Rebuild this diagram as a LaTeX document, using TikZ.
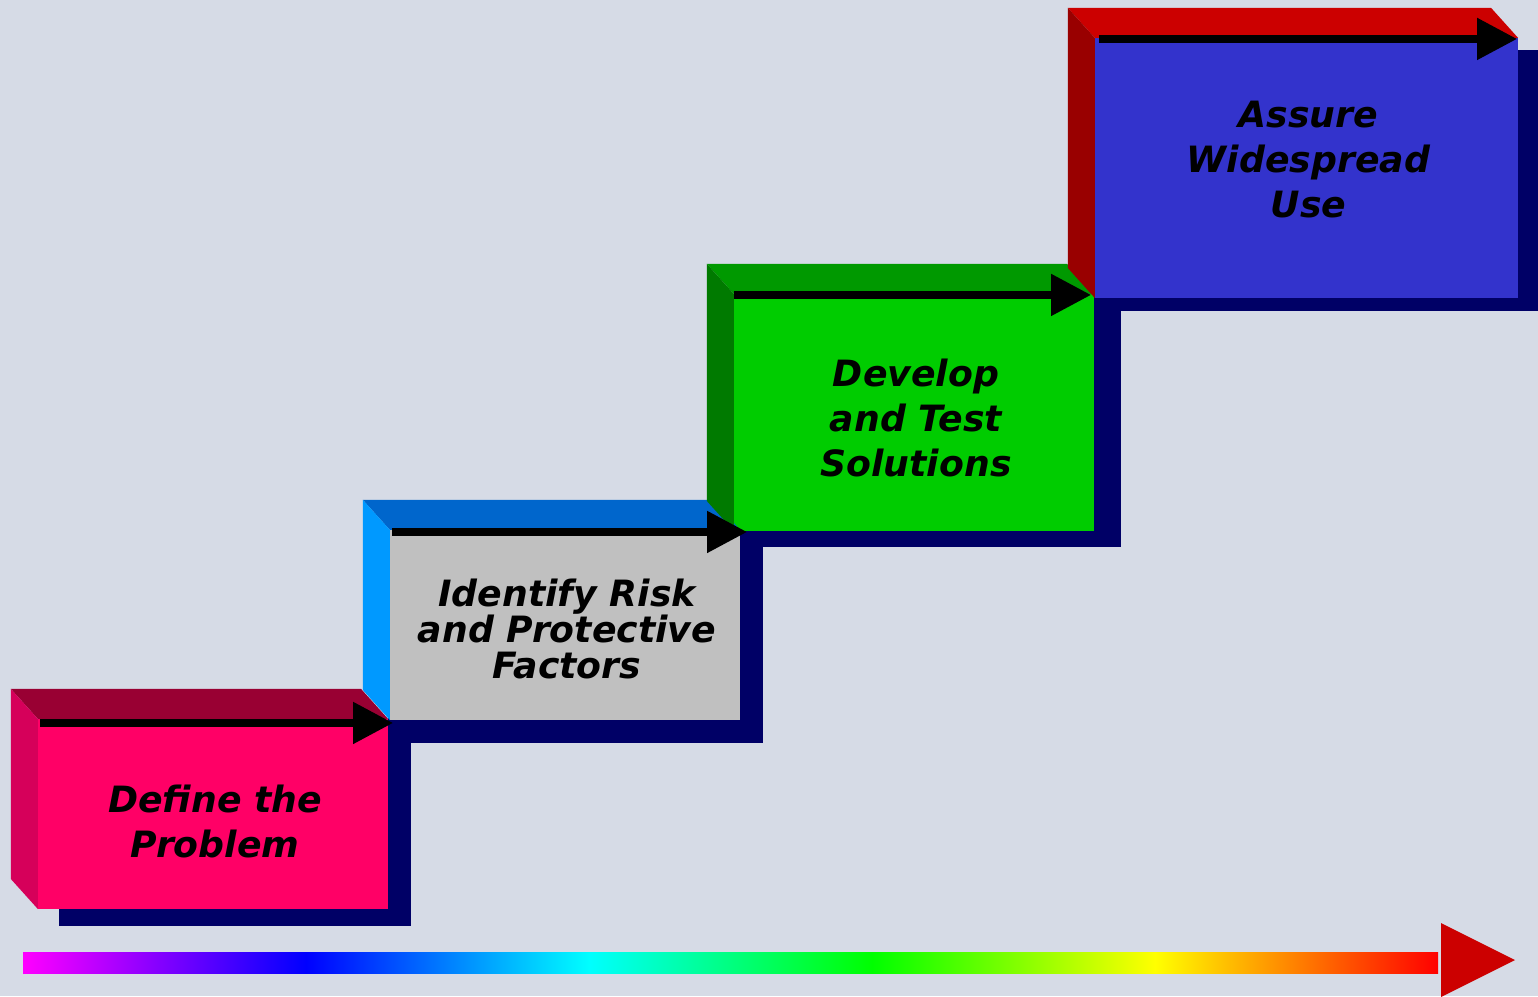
\documentclass[tikz,border=0pt]{standalone}
\usepackage{fontspec}
\newfontfamily\stepfont{DejaVu Sans}[ItalicFont={* Oblique}, BoldFont={* Bold}, BoldItalicFont={* Bold Oblique}]
\usetikzlibrary{arrows.meta,calc}

\definecolor{bgcolor}{HTML}{D6DBE6}
\definecolor{shadowblue}{HTML}{000066}
\definecolor{pinkfront}{HTML}{FF0066}
\definecolor{pinktop}{HTML}{990033}
\definecolor{pinkside}{HTML}{D6005A}
\definecolor{greyfront}{HTML}{C0C0C0}
\definecolor{greytop}{HTML}{0066CC}
\definecolor{greyside}{HTML}{0099FF}
\definecolor{greenfront}{HTML}{00CC00}
\definecolor{greentop}{HTML}{009900}
\definecolor{greenside}{HTML}{007A00}
\definecolor{bluefront}{HTML}{3333CC}
\definecolor{bluetop}{HTML}{CC0000}
\definecolor{blueside}{HTML}{990000}
\definecolor{timered}{HTML}{CC0000}

\pgfdeclarehorizontalshading{timeline}{100bp}{color(0bp)=(magenta); color(25bp)=(magenta);
  color(35bp)=(blue); color(45bp)=(cyan); color(55bp)=(green); color(65bp)=(yellow);
  color(75bp)=(red); color(100bp)=(red)}

\begin{document}
\begin{tikzpicture}[x=0.01cm, y=-0.01cm,
    stepface/.style={inner sep=0pt, outer sep=0pt},
    steptext/.style={font=\stepfont\bfseries\itshape\fontsize{10.3}{#1}\selectfont, align=center, inner sep=0pt},
    steptext/.default=12.8,
    steparrow/.style={line width=0.08cm, -{Triangle[length=0.4cm, width=0.4cm]}}]
  \useasboundingbox (0, 0) rectangle (1538, 996);
  \fill[bgcolor] (0, 0) rectangle (1538, 996);

  % shadows
  \fill[shadowblue] (59, 736) rectangle (411, 926);
  \fill[shadowblue] (388, 545) rectangle (763, 743);
  \fill[shadowblue] (740, 310) rectangle (1121, 547);
  \fill[shadowblue] (1094, 50) rectangle (1538, 311);

  % front faces
  \node[stepface, fill = pinkfront, minimum width = 3.5cm, minimum height = 1.9cm] (define) at (213, 814) {};
  \node[stepface, fill = greyfront, minimum width = 3.5cm, minimum height = 1.9cm] (identify) at (565, 625) {};
  \node[stepface, fill = greenfront, minimum width = 3.6cm, minimum height = 2.37cm] (develop) at (914, 412.5) {};
  \node[stepface, fill = bluefront, minimum width = 4.23cm, minimum height = 2.6cm] (assure) at (1306.5, 168) {};

  % bevels
  \foreach \n/\t/\s in {define/pinktop/pinkside, identify/greytop/greyside,
                        develop/greentop/greenside, assure/bluetop/blueside} {
    \fill[\t] (\n.north west) -- ++(-27, -30) -- ($(\n.north east) + (-27, -30)$) -- (\n.north east) -- cycle;
    \fill[\s] (\n.north west) -- ++(-27, -30) -- ($(\n.south west) + (-27, -30)$) -- (\n.south west) -- cycle;
  }

  \node[steptext] (define text) at ($(define) + (2, 7)$) {Define the\\Problem};
  \node[steptext = 10.25] (identify text) at ($(identify) + (2, 4)$) {Identify Risk\\and Protective\\Factors};
  \node[steptext] (develop text) at ($(develop) + (2, 5)$) {Develop\\and Test\\Solutions};
  \node[steptext] (assure text) at ($(assure) + (2, -8)$) {Assure\\Widespread\\Use};

  % arrows on top of the steps
  \draw[steparrow] ($(define.north west) + (2, 4)$) -- ($(define.north east) + (5, 4)$);
  \draw[steparrow] ($(identify.north west) + (2, 2)$) -- ($(identify.north east) + (7, 2)$);
  \draw[steparrow] ($(develop.north west) + (0, 1)$) -- ($(develop.north east) + (-3, 1)$);
  \draw[steparrow] ($(assure.north west) + (4, 1)$) -- ($(assure.north east) + (-1, 1)$);

  % time line
  \coordinate (time start) at (23, 962);
  \coordinate (time tip) at (1515, 960);
  \shade[shading = timeline] (23, 952) rectangle (1438, 973);
  \fill[timered] (1441, 923) -- (time tip) -- (1441, 997) -- cycle;
\end{tikzpicture}
\end{document}
